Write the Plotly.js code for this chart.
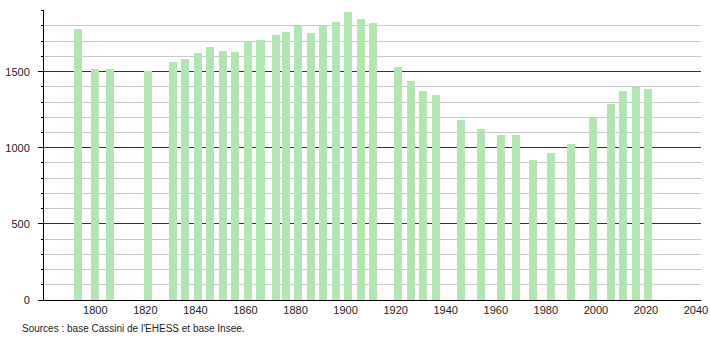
<!DOCTYPE html>
<html>
<head>
<meta charset="utf-8">
<script src="https://cdn.plot.ly/plotly-3.0.1.min.js"></script>
<style>
html,body{margin:0;padding:0;background:#fff;}
#chart{width:710px;height:340px;}
</style>
</head>
<body>
<div id="chart"></div>
<script>
const years = [1793,1800,1806,1821,1831,1836,1841,1846,1851,1856,1861,1866,1872,1876,1881,1886,1891,1896,1901,1906,1911,1921,1926,1931,1936,1946,1954,1962,1968,1975,1982,1990,1999,2006,2011,2016,2021];
const population = [1783,1520,1520,1505,1563,1586,1625,1660,1634,1627,1700,1711,1739,1759,1800,1752,1800,1829,1890,1849,1822,1528,1436,1371,1344,1180,1121,1081,1086,921,963,1022,1202,1288,1371,1399,1386];
const xTickVals = [1800,1820,1840,1860,1880,1900,1920,1940,1960,1980,2000,2020,2040];
const yTickVals = [0,500,1000,1500];
const sourceText = "Sources : base Cassini de l'EHESS et base Insee.";

const trace = {
  type: 'bar',
  x: years,
  y: population,
  width: 3.2,
  marker: {color: '#b2e5b2', line: {width: 0}},
  hoverinfo: 'x+y'
};

const layout = {
  width: 710, height: 340,
  margin: {l: 44, r: 9, t: 10, b: 40},
  paper_bgcolor: '#fff', plot_bgcolor: '#fff',
  font: {family: 'Liberation Sans, Arial, sans-serif', size: 11, color: '#222'},
  showlegend: false,
  bargap: 0,
  xaxis: {
    range: [1779.5, 2042],
    tickvals: xTickVals,
    ticktext: xTickVals.map(String),
    ticks: '',
    showgrid: false,
    showline: true, linecolor: '#000', linewidth: 1,
    zeroline: false,
    tickfont: {size: 11, color: '#222'},
    fixedrange: true
  },
  yaxis: {
    range: [0, 1905],
    tickvals: yTickVals,
    ticktext: yTickVals.map(String),
    ticks: 'outside', ticklen: 5, tickcolor: '#000', tickwidth: 1,
    ticklabelstandoff: 6,
    showgrid: true, gridcolor: '#333', gridwidth: 1,
    showline: true, linecolor: '#000', linewidth: 1,
    zeroline: false,
    tickfont: {size: 11, color: '#222'},
    minor: {dtick: 100, tick0: 0, ticks: 'outside', ticklen: 2, tickcolor: '#000', showgrid: true, gridcolor: '#c8c8c8', gridwidth: 1},
    fixedrange: true
  },
  annotations: [{
    text: sourceText,
    xref: 'paper', yref: 'paper',
    x: -0.037, y: -0.072,
    xanchor: 'left', yanchor: 'top',
    showarrow: false,
    font: {size: 10, color: '#222'}
  }]
};

Plotly.newPlot('chart', [trace], layout, {displayModeBar: false, staticPlot: true});
</script>
</body>
</html>
